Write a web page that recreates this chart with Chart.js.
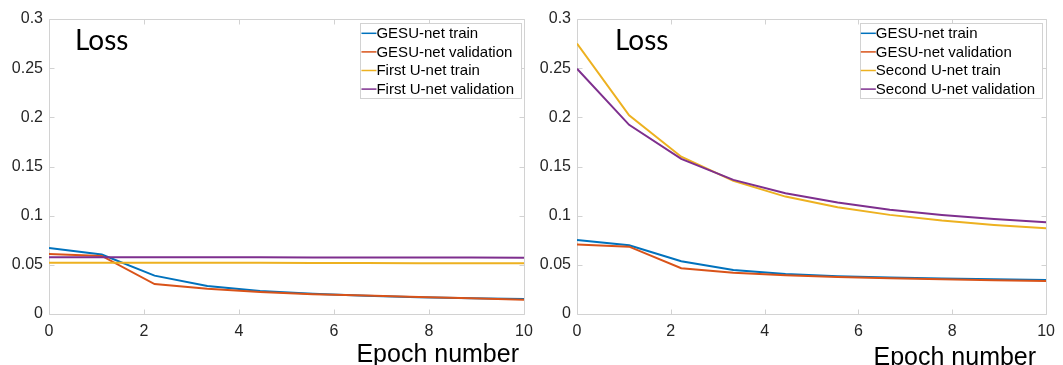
<!DOCTYPE html>
<html><head><meta charset="utf-8">
<script src="https://cdn.jsdelivr.net/npm/chart.js@4.4.1/dist/chart.umd.min.js"></script>
<style>
html,body{margin:0;padding:0;background:#fff;}
#wrap{position:relative;width:1063px;height:365px;overflow:hidden;background:#fff;}
#c1{position:absolute;left:0;top:0;width:545px;height:365px;}
#c2{position:absolute;left:530px;top:0;width:533px;height:365px;}
</style></head><body>
<div id="wrap"><canvas id="c1" width="545" height="365"></canvas><canvas id="c2" width="533" height="365"></canvas></div>
<script>
// ---- data ----
const epochs = [0, 1.111, 2.222, 3.333, 4.444, 5.556, 6.667, 7.778, 8.889, 10];
const xTicks = [0, 2, 4, 6, 8, 10];
const yTicks = [0, 0.05, 0.1, 0.15, 0.2, 0.25, 0.3];

const leftLabels = ['GESU-net train', 'GESU-net validation', 'First U-net train', 'First U-net validation'];
const leftGesuTrain = [0.067, 0.0605, 0.039, 0.0285, 0.0235, 0.0205, 0.0185, 0.017, 0.016, 0.0153];
const leftGesuVal   = [0.061, 0.059, 0.0305, 0.0258, 0.0224, 0.0200, 0.0187, 0.0172, 0.016, 0.0146];
const firstTrain    = [0.052, 0.052, 0.052, 0.052, 0.052, 0.0519, 0.0518, 0.0517, 0.0516, 0.0515];
const firstVal      = [0.0577, 0.0577, 0.0577, 0.0576, 0.0576, 0.0575, 0.0575, 0.0574, 0.0574, 0.0573];

const rightLabels = ['GESU-net train', 'GESU-net validation', 'Second U-net train', 'Second U-net validation'];
const rightGesuTrain = [0.0753, 0.0699, 0.0536, 0.0448, 0.0407, 0.0383, 0.037, 0.036, 0.0353, 0.0346];
const rightGesuVal   = [0.0706, 0.0685, 0.0465, 0.042, 0.0394, 0.0377, 0.0363, 0.0353, 0.0343, 0.0336];
const secondTrain    = [0.275, 0.202, 0.160, 0.1354, 0.1194, 0.1086, 0.1008, 0.095, 0.0906, 0.0872];
const secondVal      = [0.2494, 0.1924, 0.1578, 0.1364, 0.1228, 0.1133, 0.1059, 0.1008, 0.0967, 0.0933];

const colors = ['#0072BD', '#D95319', '#EDB120', '#7E2F8E'];
const panelTitle = 'Loss';
const xTitle = 'Epoch number';

// ---- helpers ----
const AXIS = '#d2d2d2';
const TICKFONT = "'Liberation Sans', Arial, Helvetica, sans-serif";

function makeDatasets(labels, series) {
  return series.map((arr, i) => ({
    label: labels[i],
    data: epochs.map((x, k) => ({ x: x, y: arr[k] })),
    borderColor: colors[i],
    backgroundColor: colors[i],
    borderWidth: 2,
    pointRadius: 0,
    fill: false,
    tension: 0,
    order: 3 - i
  }));
}

const matlabPlugin = {
  id: 'matlab',
  beforeDatasetsDraw(chart) {
    const { ctx, chartArea: a, scales } = chart;
    ctx.save();
    ctx.strokeStyle = AXIS;
    ctx.lineWidth = 1;
    const L = Math.round(a.left) + 0.5, R = Math.round(a.right) + 0.5;
    const T = Math.round(a.top) + 0.5, B = Math.round(a.bottom) + 0.5;
    ctx.beginPath();
    ctx.rect(L, T, R - L, B - T);
    ctx.stroke();
    const tl = 5;
    ctx.beginPath();
    xTicks.forEach(v => {
      const px = Math.round(scales.x.getPixelForValue(v)) + 0.5;
      ctx.moveTo(px, B); ctx.lineTo(px, B - tl);
      ctx.moveTo(px, T); ctx.lineTo(px, T + tl);
    });
    yTicks.forEach(v => {
      const py = Math.round(scales.y.getPixelForValue(v)) + 0.5;
      ctx.moveTo(L, py); ctx.lineTo(L + tl, py);
      ctx.moveTo(R, py); ctx.lineTo(R - tl, py);
    });
    ctx.stroke();
    ctx.restore();
  },
  afterDraw(chart, args, opts) {
    const { ctx, chartArea: a } = chart;
    ctx.save();
    // panel title
    ctx.fillStyle = '#000';
    ctx.font = "28px Lato, 'Open Sans', sans-serif";
    ctx.textAlign = 'left';
    ctx.textBaseline = 'alphabetic';
    ctx.fillText(panelTitle, a.left + opts.titleDx, 50);
    // x label
    ctx.font = "25px " + TICKFONT;
    ctx.textAlign = 'right';
    ctx.fillText(xTitle, a.right - opts.xlabDx, opts.xlabY);
    // legend
    ctx.font = "15px " + TICKFONT;
    const ds = chart.data.datasets;
    let maxW = 0;
    ds.forEach(d => { maxW = Math.max(maxW, ctx.measureText(d.label).width); });
    const boxR = a.right - opts.legDx;
    const boxW = 1 + 15 + maxW + 7;
    const boxL = boxR - boxW;
    const boxT = a.top + 4, boxB = a.top + 79;
    ctx.fillStyle = '#fff';
    ctx.fillRect(boxL, boxT, boxW, boxB - boxT);
    ctx.strokeStyle = AXIS;
    ctx.lineWidth = 1;
    ctx.strokeRect(Math.round(boxL) + 0.5, Math.round(boxT) + 0.5, Math.round(boxW), Math.round(boxB - boxT));
    ds.forEach((d, i) => {
      const cy = boxT + 10.3 + i * 18.6;
      ctx.strokeStyle = d.borderColor;
      ctx.lineWidth = 1.5;
      ctx.beginPath();
      ctx.moveTo(boxL + 1, cy); ctx.lineTo(boxL + 16, cy);
      ctx.stroke();
      ctx.fillStyle = '#000';
      ctx.textAlign = 'left';
      ctx.textBaseline = 'middle';
      ctx.fillText(d.label, boxL + 16, cy + 0.5);
    });
    ctx.restore();
  }
};

function makeChart(id, labels, series, pad, yWidth, plug) {
  return new Chart(document.getElementById(id), {
    type: 'line',
    data: { datasets: makeDatasets(labels, series) },
    options: {
      responsive: false,
      animation: false,
      devicePixelRatio: 1,
      layout: { padding: pad },
      plugins: { legend: { display: false }, tooltip: { enabled: false }, matlab: plug },
      scales: {
        x: {
          type: 'linear', min: 0, max: 10,
          afterBuildTicks: s => { s.ticks = xTicks.map(v => ({ value: v })); },
          afterFit: s => { s.height = 51; },
          grid: { display: false, drawTicks: false },
          border: { display: false },
          ticks: { padding: 8, color: '#262626', font: { family: TICKFONT, size: 16 }, maxRotation: 0 }
        },
        y: {
          type: 'linear', min: 0, max: 0.3,
          afterBuildTicks: s => { s.ticks = yTicks.map(v => ({ value: v })); },
          afterFit: s => { s.width = yWidth; },
          grid: { display: false, drawTicks: false },
          border: { display: false },
          ticks: { padding: 6, color: '#262626', font: { family: TICKFONT, size: 16 },
                   callback: v => String(+Number(v).toFixed(2)) }
        }
      }
    },
    plugins: [matlabPlugin]
  });
}

makeChart('c1', leftLabels, [leftGesuTrain, leftGesuVal, firstTrain, firstVal],
  { top: 19, right: 21, bottom: 0, left: 0 }, 49,
  { titleDx: 26, xlabDx: 5, xlabY: 362, legDx: 3 });
makeChart('c2', rightLabels, [rightGesuTrain, rightGesuVal, secondTrain, secondVal],
  { top: 19, right: 11, bottom: 0, left: 0 }, 47,
  { titleDx: 38, xlabDx: 10, xlabY: 365, legDx: 4 });
</script>
</body></html>
